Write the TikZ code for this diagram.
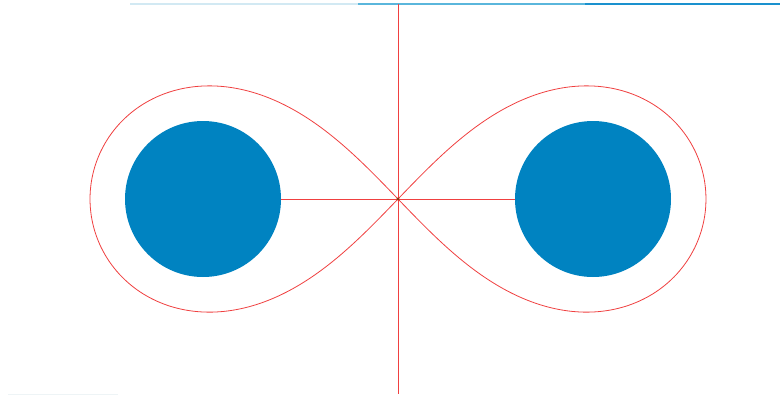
\documentclass[tikz,border=0pt]{standalone}
\definecolor{ballblue}{HTML}{0083C1}
\definecolor{curvered}{HTML}{F04040}
\definecolor{lineA}{HTML}{D2E9F3}
\definecolor{lineB}{HTML}{5AB6DC}
\definecolor{lineC}{HTML}{1A91CE}
\definecolor{faint}{HTML}{EEF4F6}
\definecolor{dotc}{HTML}{8A3A10}
\tikzset{
  ball/.style={circle, fill=ballblue, draw=none, minimum size=156pt, inner sep=0pt},
  redline/.style={draw=curvered, line width=0.8pt},
}
\begin{document}
\begin{tikzpicture}[x=1pt,y=-1pt]
\useasboundingbox (0,0) rectangle (780,397);
\fill[white] (0,0) rectangle (780,397);
% top bar
\coordinate (t0) at (130,4);
\coordinate (t1) at (358,4);
\coordinate (t2) at (585,4);
\coordinate (t3) at (780,4);
\draw[lineA, line width=1.2pt] (t0) -- (t1);
\draw[lineB, line width=1.2pt] (t1) -- (t2);
\draw[lineC, line width=1.2pt] (t2) -- (t3);
% bottom faint line
\coordinate (b0) at (8,394);
\coordinate (b1) at (118,394);
\draw[faint, line width=1pt] (b0) -- (b1);
% lemniscate
\draw[redline] plot[domain=0:360, samples=241, smooth, variable=\t]
  ({398+308*cos(\t)/(1+pow(sin(\t),2))}, {199-320*sin(\t)*cos(\t)/(1+pow(sin(\t),2))}) -- cycle;
% vertical line
\coordinate (c) at (398,199);
\coordinate (vtop) at (398,4);
\coordinate (vbot) at (398,394);
\draw[redline] (vtop) -- (vbot);
% balls
\node[ball] (L) at (203,199) {};
\node[ball] (R) at (593,199) {};
\draw[redline] (L.east) -- (c);
\draw[redline] (c) -- (R.west);
\fill[dotc] (c) circle (1.6pt);
\end{tikzpicture}
\end{document}
